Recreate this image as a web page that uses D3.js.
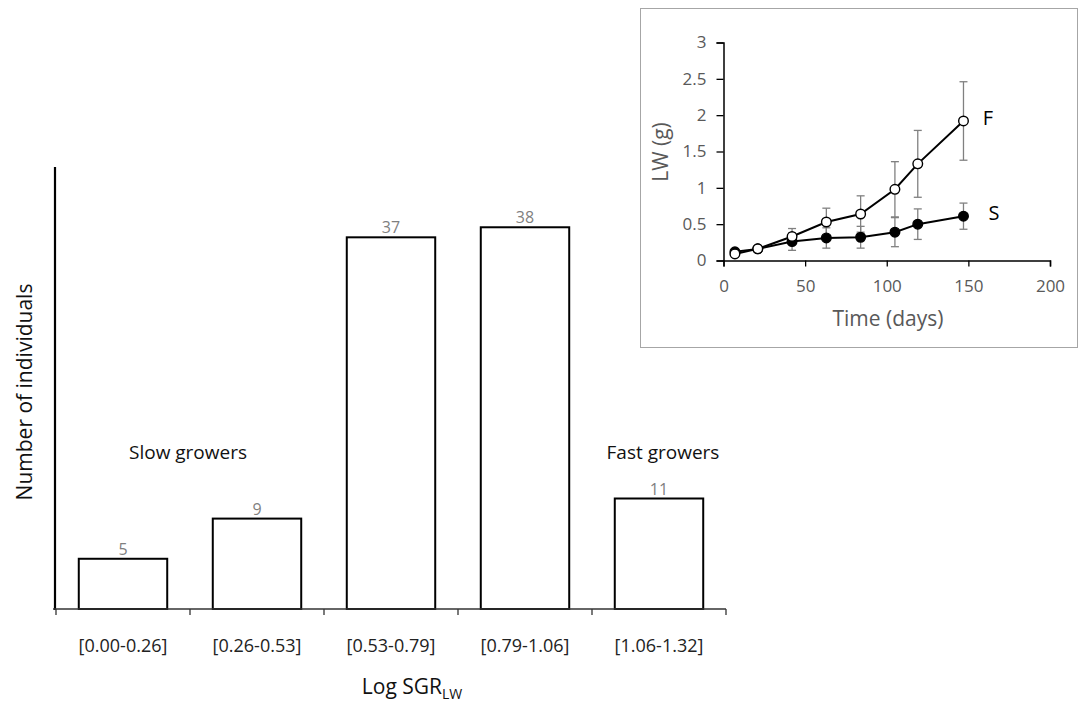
<!DOCTYPE html>
<html>
<head>
<meta charset="utf-8">
<script src="https://cdn.jsdelivr.net/npm/d3@7"></script>
<style>
  body { margin: 0; background: #fff; }
  svg { display: block; font-family: "Open Sans", sans-serif; }
</style>
</head>
<body>
<div id="chart"></div>
<script>
// histogram of growth classes
const classes = ['[0.00-0.26]', '[0.26-0.53]', '[0.53-0.79]', '[0.79-1.06]', '[1.06-1.32]'];
const counts = [5, 9, 37, 38, 11];

// inset: live weight over time
const days = [7, 21, 42, 63, 84, 105, 119, 147];
const fastLW = [0.09, 0.16, 0.33, 0.53, 0.64, 0.98, 1.33, 1.92];
const fastSD = [0.02, 0.02, 0.11, 0.19, 0.25, 0.38, 0.46, 0.54];
const slowLW = [0.12, 0.16, 0.26, 0.31, 0.32, 0.39, 0.50, 0.61];
const slowSD = [0.02, 0.02, 0.12, 0.14, 0.15, 0.20, 0.21, 0.18];
const lwTicks = [0, 0.5, 1, 1.5, 2, 2.5, 3];
const dayTicks = [0, 50, 100, 150, 200];

const width = 1082, height = 704;

const svg = d3.select('#chart').append('svg')
    .attr('width', width)
    .attr('height', height)
    .attr('viewBox', `0,0,${width},${height}`);

// ---- main bar chart ----
const x = d3.scaleBand()
    .domain(classes)
    .range([56, 726])
    .paddingInner(0.34)
    .paddingOuter(0.17);

const y = d3.scaleLinear()
    .domain([0, 44])
    .range([609, 167]);

const main = svg.append('g');

main.selectAll('rect.bar')
    .data(counts)
    .join('rect')
    .attr('class', 'bar')
    .attr('x', (d, i) => x(classes[i]))
    .attr('y', d => y(d))
    .attr('width', x.bandwidth())
    .attr('height', d => y(0) - y(d))
    .style('fill', '#fff')
    .style('stroke', '#000')
    .style('stroke-width', 2);

main.selectAll('text.val')
    .data(counts)
    .join('text')
    .attr('class', 'val')
    .attr('x', (d, i) => x(classes[i]) + x.bandwidth() / 2)
    .attr('y', d => y(d) - 4)
    .attr('text-anchor', 'middle')
    .style('font-size', '16px')
    .style('fill', '#7f7f7f')
    .text(d => d);

// y axis (no ticks)
main.append('line')
    .attr('x1', 55).attr('x2', 55)
    .attr('y1', y.range()[1]).attr('y2', y(0) + 1)
    .style('stroke', '#000')
    .style('stroke-width', 2.2);

// x axis with ticks on band boundaries
const step = x.step();
const bounds = classes.map(c => x(c) - step * x.paddingInner() / 2);
bounds.push(bounds[bounds.length - 1] + step);

main.append('line')
    .attr('x1', 53).attr('x2', bounds[bounds.length - 1])
    .attr('y1', y(0)).attr('y2', y(0))
    .style('stroke', '#333')
    .style('stroke-width', 1.5);

main.selectAll('line.tick')
    .data(bounds)
    .join('line')
    .attr('class', 'tick')
    .attr('x1', d => d).attr('x2', d => d)
    .attr('y1', y(0)).attr('y2', y(0) + 6)
    .style('stroke', '#333')
    .style('stroke-width', 1.3);

main.selectAll('text.cat')
    .data(classes)
    .join('text')
    .attr('class', 'cat')
    .attr('x', d => x(d) + x.bandwidth() / 2)
    .attr('y', 652)
    .attr('text-anchor', 'middle')
    .style('font-size', '18px')
    .style('fill', '#222')
    .text(d => d);

const xt = main.append('text')
    .attr('x', 412)
    .attr('y', 694)
    .attr('text-anchor', 'middle')
    .style('font-size', '21px')
    .style('fill', '#111');
xt.append('tspan').text('Log SGR');
xt.append('tspan').attr('dy', 5).style('font-size', '14px').text('LW');

main.append('text')
    .attr('transform', 'translate(32,392) rotate(-90)')
    .attr('text-anchor', 'middle')
    .style('font-size', '21px')
    .style('fill', '#111')
    .text('Number of individuals');

main.append('text')
    .attr('x', 188).attr('y', 459)
    .attr('text-anchor', 'middle')
    .style('font-size', '19px')
    .style('fill', '#111')
    .text('Slow growers');

main.append('text')
    .attr('x', 663).attr('y', 459)
    .attr('text-anchor', 'middle')
    .style('font-size', '19px')
    .style('fill', '#111')
    .text('Fast growers');

// ---- inset line chart ----
const inset = svg.append('g');

inset.append('rect')
    .attr('x', 640.5).attr('y', 8.5)
    .attr('width', 437).attr('height', 339)
    .style('fill', '#fff')
    .style('stroke', '#a6a6a6')
    .style('stroke-width', 1);

const ix = d3.scaleLinear().domain([0, 200]).range([723.5, 1050]);
const iy = d3.scaleLinear().domain([0, 3]).range([260.5, 42.5]);

const xAxis = inset.append('g')
    .attr('transform', `translate(0,${iy(0)})`)
    .call(d3.axisBottom(ix).tickValues(dayTicks).tickSize(6).tickPadding(13).tickFormat(d3.format('d')));
const yAxis = inset.append('g')
    .attr('transform', `translate(${ix(0)},0)`)
    .call(d3.axisLeft(iy).tickValues(lwTicks).tickSize(7).tickPadding(10).tickFormat(d => d));

[xAxis, yAxis].forEach(a => {
    a.select('.domain').style('stroke', '#000').style('stroke-width', 1.5);
    a.selectAll('.tick line').style('stroke', '#000').style('stroke-width', 1.3);
    a.selectAll('.tick text')
        .style('font-family', '"Open Sans", sans-serif')
        .style('font-size', '17px')
        .style('fill', '#595959');
});

inset.append('text')
    .attr('x', 888).attr('y', 326)
    .attr('text-anchor', 'middle')
    .style('font-size', '21px')
    .style('fill', '#595959')
    .text('Time (days)');

inset.append('text')
    .attr('transform', 'translate(668,152) rotate(-90)')
    .attr('text-anchor', 'middle')
    .style('font-size', '21px')
    .style('fill', '#595959')
    .text('LW (g)');

function errorBars(vals, sds) {
    const g = inset.append('g').style('stroke', '#808080').style('stroke-width', 1.3);
    days.forEach((d, i) => {
        const cx = ix(d);
        const top = iy(vals[i] + sds[i]);
        const bot = iy(vals[i] - sds[i]);
        g.append('line').attr('x1', cx).attr('x2', cx).attr('y1', top).attr('y2', bot);
        g.append('line').attr('x1', cx - 4).attr('x2', cx + 4).attr('y1', top).attr('y2', top);
        g.append('line').attr('x1', cx - 4).attr('x2', cx + 4).attr('y1', bot).attr('y2', bot);
    });
}

const line = d3.line().x(d => ix(d[0])).y(d => iy(d[1]));

function series(vals, fill) {
    const pts = days.map((d, i) => [d, vals[i]]);
    inset.append('path')
        .attr('d', line(pts))
        .style('fill', 'none')
        .style('stroke', '#000')
        .style('stroke-width', 2);
    inset.append('g').selectAll('circle')
        .data(pts)
        .join('circle')
        .attr('cx', d => ix(d[0]))
        .attr('cy', d => iy(d[1]))
        .attr('r', 4.8)
        .style('fill', fill)
        .style('stroke', '#000')
        .style('stroke-width', 1.4);
}

errorBars(slowLW, slowSD);
errorBars(fastLW, fastSD);
series(slowLW, '#000');
series(fastLW, '#fff');

inset.append('text')
    .attr('x', 988).attr('y', 125)
    .attr('text-anchor', 'middle')
    .style('font-size', '20px')
    .style('fill', '#000')
    .text('F');

inset.append('text')
    .attr('x', 994).attr('y', 220)
    .attr('text-anchor', 'middle')
    .style('font-size', '20px')
    .style('fill', '#000')
    .text('S');
</script>
</body>
</html>
